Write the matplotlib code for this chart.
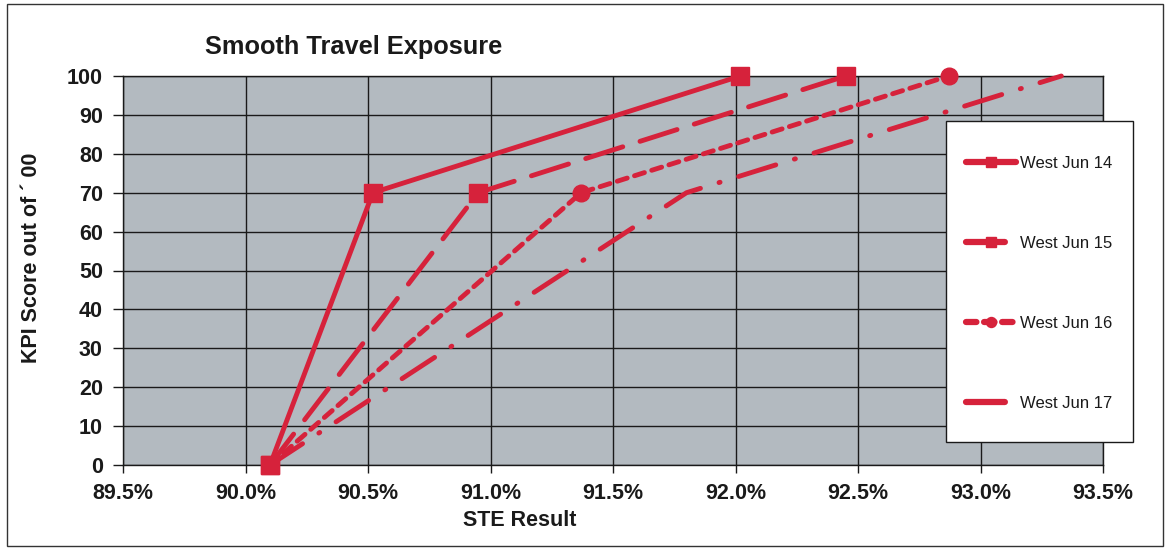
import matplotlib.pyplot as plt
from matplotlib.patches import Rectangle
from matplotlib.ticker import FuncFormatter

plt.rcParams["font.family"] = ["Liberation Sans", "DejaVu Sans"]
plt.rcParams["lines.scale_dashes"] = False

# STE result (%) at which each KPI score is reached
scores = [0, 70, 100]
ste_jun14 = [90.10, 90.52, 92.02]
ste_jun15 = [90.10, 90.95, 92.45]
ste_jun16 = [90.10, 91.37, 92.87]
ste_jun17 = [90.10, 91.80, 93.33]
labels = ["West Jun 14", "West Jun 15", "West Jun 16", "West Jun 17"]

RED = "#d6223b"
BG = "#b3bac0"
INK = "#1a1a1a"
W, H = 1165, 550

fig = plt.figure(figsize=(W / 100, H / 100), dpi=100)
ax = fig.add_axes([123 / W, 1 - 465 / H, 980 / W, 389 / H])

series = [
    (ste_jun14, dict(linestyle="-", marker="s", markersize=13)),
    (ste_jun15, dict(dashes=(28, 13), marker="s", markersize=13)),
    (ste_jun16, dict(dashes=(7.5, 5.5), marker="o", markersize=12)),
    (ste_jun17, dict(dashes=(28, 14, 0.8, 14), marker=None)),
]
handles = []
for (xs, style), lab in zip(series, labels):
    h, = ax.plot(xs, scores, color=RED, lw=3.5, label=lab, zorder=3,
                 clip_on=False, dash_capstyle="round", solid_capstyle="round",
                 **style)
    handles.append(h)

ax.set_xlim(89.5, 93.5)
ax.set_ylim(0, 100)
ax.set_xticks([89.5 + 0.5 * i for i in range(9)])
ax.set_yticks(range(0, 101, 10))
ax.xaxis.set_major_formatter(FuncFormatter(lambda v, p: f"{v:.1f}%"))
ax.set_facecolor(BG)
ax.grid(True, color=INK, lw=1.0)
ax.set_axisbelow(True)
for s in ax.spines.values():
    s.set_color(INK)
    s.set_linewidth(1.0)
ax.tick_params(direction="out", width=1, color=INK)
ax.tick_params(axis="x", labelsize=15.5, length=6, pad=7)
ax.tick_params(axis="y", labelsize=15.5, length=7, pad=7.5)
for t in ax.get_xticklabels() + ax.get_yticklabels():
    t.set_fontweight("bold")
    t.set_color(INK)

fig.text(354 / W, 1 - 47 / H, "Smooth Travel Exposure", ha="center", va="center",
         fontsize=18.3, fontweight="bold", color=INK)
fig.text(520 / W, 1 - 521 / H, "STE Result", ha="center", va="center",
         fontsize=15.5, fontweight="bold", color=INK)
fig.text(32 / W, 1 - 258 / H, "KPI Score out of \u00b4 00", ha="center", va="center",
         rotation=90, fontsize=15.5, fontweight="bold", color=INK)

# legend box drawn as its own white rectangle, entries placed inside it
fig.patches.append(Rectangle((946 / W, 1 - 442 / H), 187 / W, 321 / H,
                             transform=fig.transFigure, facecolor="white",
                             edgecolor=INK, lw=1.0, zorder=4))
leg = fig.legend(handles=handles, loc="upper left",
                 bbox_to_anchor=(966 / W, 1 - 156 / H),
                 frameon=False, fontsize=12, markerscale=0.6, handlelength=3.0,
                 labelspacing=3.89, borderpad=0, handletextpad=0.25,
                 borderaxespad=0)
leg.set_zorder(5)
for line in leg.get_lines():
    line.set_linewidth(4.5)
for t in leg.get_texts():
    t.set_color(INK)

# outer chart border
fig.patches.append(Rectangle((7 / W, 1 - 546 / H), 1156 / W, 542 / H,
                             transform=fig.transFigure, fill=False,
                             edgecolor="#333333", lw=1.0))

fig.savefig("out.png", dpi=100)
